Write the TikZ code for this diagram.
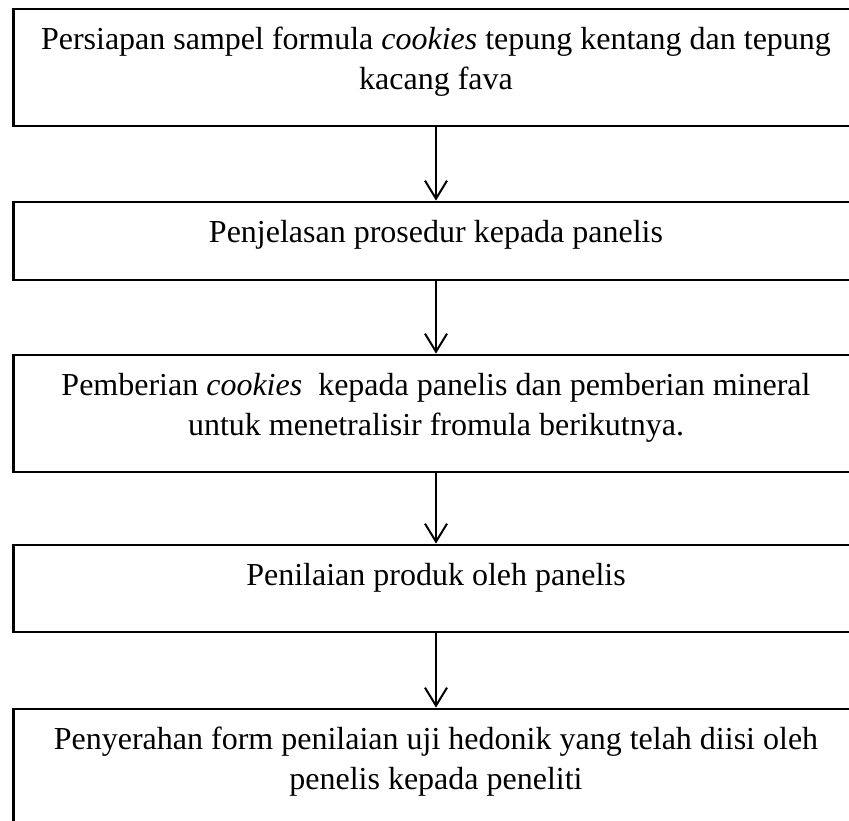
\documentclass[tikz,border=0pt]{standalone}
\usepackage{fontspec}
\setmainfont{Liberation Serif}
\usetikzlibrary{arrows.meta}
\begin{document}
\begin{tikzpicture}[x=1pt,y=-1pt,
  boxst/.style={draw=black, line width=2.8pt, minimum width=845pt, inner sep=0pt, fill=none},
  txt/.style={align=center, inner sep=0pt, font=\fontsize{32}{40}\selectfont},
  arr/.style={draw=black, line width=2pt, -{Straight Barb[length=18pt,width=22pt,line width=2pt]}}]
\useasboundingbox (0,0) rectangle (849,821);
\clip (0,0) rectangle (849,821);
\node[boxst, minimum height=117pt] (b1) at (436,67.5) {};
\node[boxst, minimum height=78pt] (b2) at (436,241) {};
\node[boxst, minimum height=117pt] (b3) at (436,413.5) {};
\node[boxst, minimum height=87pt] (b4) at (436,588.5) {};
\node[boxst, minimum height=117pt] (b5) at (436,767.5) {};
\node[txt, anchor=base] (t1) at ([yshift=-82pt]b1.north) {Persiapan sampel formula \textit{cookies} tepung kentang dan tepung\\kacang fava};
\node[txt, anchor=base] (t2) at ([yshift=-42pt]b2.north) {Penjelasan prosedur kepada panelis};
\node[txt, anchor=base] (t3) at ([yshift=-82pt]b3.north) {Pemberian \textit{cookies}\ \ kepada panelis dan pemberian mineral\\untuk menetralisir fromula berikutnya.};
\node[txt, anchor=base] (t4) at ([yshift=-42pt]b4.north) {Penilaian produk oleh panelis};
\node[txt, anchor=base] (t5) at ([yshift=-82pt]b5.north) {Penyerahan form penilaian uji hedonik yang telah diisi oleh\\penelis kepada peneliti};
\draw[arr] (b1.south) -- (b2.north);
\draw[arr] (b2.south) -- (b3.north);
\draw[arr] (b3.south) -- (b4.north);
\draw[arr] (b4.south) -- (b5.north);
\end{tikzpicture}
\end{document}
